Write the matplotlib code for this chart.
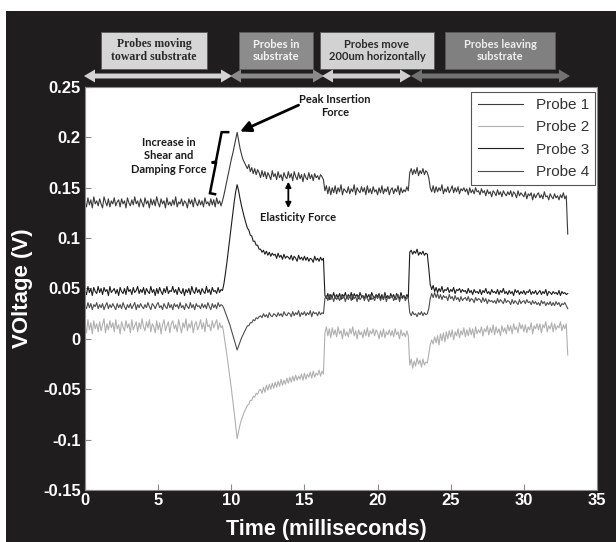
import numpy as np
import matplotlib
matplotlib.use("Agg")
import matplotlib.pyplot as plt
from matplotlib.patches import Rectangle, Polygon

# ---------------- data (millivolts, sampled every 0.1 ms, one row per ms) ----------------
sample_interval_ms = 0.1

probe1_mv = [
    136,131,140,133,138,130,141,134,137,132,
    139,134,130,141,136,132,139,131,137,134,
    140,132,136,138,131,139,134,137,130,140,
    135,132,138,133,141,134,137,131,139,135,
    131,140,134,137,130,139,133,138,132,141,
    135,131,139,134,137,130,140,133,136,132,
    138,133,141,131,136,134,139,132,137,135,
    130,139,134,138,131,140,135,132,138,133,
    137,131,140,134,136,132,139,133,138,131,
    140,134,137,132,137,143,150,157,164,171,
    178,184,191,198,205,197,189,183,178,175,
    172,169,173,166,170,164,169,163,168,165,
    160,167,161,166,159,165,162,158,167,161,
    164,158,166,160,163,157,165,161,159,166,
    160,164,157,166,161,158,165,159,163,156,
    164,160,158,165,159,163,157,164,160,162,
    158,163,161,158,147,152,144,151,143,150,
    145,152,144,150,146,153,143,149,147,145,
    151,144,149,146,153,143,150,147,145,151,
    146,150,143,152,145,149,144,151,146,148,
    143,150,145,152,144,149,146,151,143,148,
    150,144,149,146,152,143,150,145,148,146,
    151,147,165,169,163,168,164,170,162,167,
    164,169,163,167,165,160,150,146,152,145,
    151,146,150,147,153,144,149,146,151,145,
    148,152,145,150,146,151,144,149,147,150,
    146,149,143,150,145,148,144,150,146,147,
    143,149,145,147,142,148,144,146,141,147,
    145,142,148,143,146,141,147,144,142,146,
    143,147,141,146,144,140,147,142,145,143,
    141,146,139,144,142,145,138,144,140,143,
    145,140,143,139,146,141,142,138,144,141,
    139,144,140,142,138,143,140,145,139,142,
    104]

probe2_mv = [
    13,6,19,9,16,5,18,10,15,7,
    17,8,14,20,6,15,9,18,11,16,
    7,19,10,14,5,17,12,8,18,11,
    15,6,19,9,13,17,7,16,10,20,
    12,8,17,11,19,7,15,12,6,18,
    9,16,5,14,19,8,13,17,6,15,
    18,10,14,7,19,12,6,16,11,20,
    8,15,11,18,6,14,17,9,13,19,
    10,16,7,20,12,14,8,18,11,15,
    19,9,16,11,13,4,-6,-16,-27,-38,
    -49,-61,-73,-86,-99,-92,-85,-80,-76,-72,
    -69,-66,-65,-61,-61,-57,-58,-54,-55,-51,
    -50,-54,-48,-53,-46,-51,-45,-50,-44,-49,
    -43,-48,-42,-47,-40,-46,-41,-45,-39,-44,
    -38,-43,-37,-42,-36,-41,-37,-40,-35,-41,
    -34,-40,-35,-38,-33,-39,-32,-38,-34,-36,
    -31,-37,-32,-35,6,12,3,10,1,11,
    4,9,2,12,5,8,0,10,3,7,
    2,10,5,12,3,8,0,9,4,7,
    1,9,3,11,2,8,5,10,3,9,
    6,0,8,2,10,1,7,4,9,3,
    8,2,10,4,7,0,9,3,6,2,
    8,3,-26,-20,-29,-22,-27,-19,-25,-21,
    -28,-20,-26,-23,-24,-15,-6,-1,-5,2,
    -4,3,-6,5,-2,6,-3,7,0,8,
    2,9,-1,7,3,10,1,8,4,11,
    2,9,3,11,4,10,1,12,5,9,
    6,12,3,10,7,13,4,11,6,14,
    4,12,6,10,3,13,7,11,5,14,
    8,13,5,15,9,12,6,16,10,14,
    7,14,6,12,9,16,5,13,10,15,
    9,15,6,14,11,17,7,13,10,16,
    7,15,9,13,11,17,8,14,10,15,
    -16]

probe3_mv = [
    48,44,52,46,50,43,51,47,45,52,
    46,50,44,51,47,49,43,52,46,48,
    50,45,49,43,51,47,45,50,44,52,
    47,49,44,51,46,48,52,45,49,46,
    51,44,50,47,45,52,46,49,43,50,
    45,51,47,44,50,46,52,45,48,47,
    52,46,49,44,51,47,45,50,43,49,
    46,50,44,52,47,45,51,46,49,44,
    50,47,45,52,46,49,44,51,47,48,
    45,51,46,49,48,55,65,76,88,100,
    112,124,136,146,153,147,139,132,126,120,
    115,110,108,103,102,97,97,93,93,89,
    89,86,88,84,87,83,86,82,85,83,
    84,80,85,81,83,79,84,80,82,81,
    79,83,78,82,80,77,83,79,81,78,
    82,78,81,77,80,79,76,82,78,80,
    77,81,78,80,43,40,45,39,44,41,
    46,40,44,41,45,39,44,42,46,40,
    44,41,46,39,45,42,44,40,46,42,
    43,40,45,41,44,39,46,42,41,44,
    42,45,40,44,39,46,41,43,40,45,
    41,44,39,45,42,40,46,41,43,40,
    44,41,86,88,84,87,85,89,83,86,
    84,87,83,85,84,70,54,49,53,47,
    51,46,50,47,52,46,49,48,51,46,
    49,47,51,45,49,48,50,46,49,47,
    48,45,50,46,48,44,49,46,47,45,
    49,44,48,46,50,45,47,44,49,46,
    47,45,49,44,48,46,50,45,47,44,
    48,45,47,43,49,46,48,44,47,45,
    48,44,47,46,49,44,47,45,48,44,
    46,48,44,47,45,49,43,47,46,44,
    47,45,46,44,48,43,47,45,46,44,
    45]

probe4_mv = [
    33,30,36,31,35,29,34,32,36,30,
    34,31,35,29,33,36,30,34,31,35,
    32,29,35,31,34,30,36,32,29,34,
    31,35,30,33,36,29,34,31,35,32,
    30,34,31,36,32,29,35,33,30,34,
    36,31,33,29,35,32,30,36,31,34,
    29,35,32,34,30,36,31,33,29,35,
    32,30,36,31,34,29,35,32,33,30,
    35,31,34,30,36,32,29,35,31,34,
    30,36,32,34,33,30,26,22,18,14,
    9,4,-1,-6,-11,-7,-3,1,4,7,
    10,13,13,16,16,19,18,21,20,22,
    23,21,25,22,24,21,26,23,22,25,
    24,22,26,23,25,22,27,24,23,26,
    25,22,27,23,26,24,28,22,26,24,
    27,23,26,24,28,22,27,25,26,23,
    27,24,26,25,40,43,38,44,39,42,
    37,43,39,41,38,44,40,42,37,43,
    39,43,38,44,40,42,37,43,39,41,
    42,38,43,40,37,44,39,41,38,43,
    40,43,38,42,39,44,37,42,40,41,
    43,38,41,39,44,37,42,40,43,38,
    41,40,26,23,27,24,25,22,26,24,
    27,23,26,24,25,30,40,45,41,46,
    41,45,40,44,39,43,41,42,38,44,
    40,42,38,43,39,41,37,42,38,40,
    41,38,42,37,40,39,36,41,38,40,
    39,36,41,37,40,35,39,37,38,36,
    38,35,40,36,39,37,35,40,36,38,
    37,34,39,35,38,36,34,39,35,37,
    38,35,39,36,37,34,38,35,37,34,
    36,33,38,35,37,33,36,34,37,33,
    36,33,37,34,36,32,35,34,36,33,
    30]

probe_names = ["Probe 1", "Probe 2", "Probe 3", "Probe 4"]
probe_series = [probe1_mv, probe2_mv, probe3_mv, probe4_mv]

x_ticks = [0, 5, 10, 15, 20, 25, 30, 35]
y_ticks = [-0.15, -0.1, -0.05, 0, 0.05, 0.1, 0.15, 0.2, 0.25]
y_tick_labels = ["-0.15", "-0.1", "-0.05", "0", "0.05", "0.1", "0.15", "0.2", "0.25"]

phase_labels = ["Probes moving\ntoward substrate", "Probes in\nsubstrate",
                "Probes move\n200um horizontally", "Probes leaving\nsubstrate"]

# ---------------- styling ----------------
W, H = 616, 542
def fx(px):
    return px / W
def fy(py):
    return 1 - py / H

fig = plt.figure(figsize=(W / 100, H / 100), dpi=100, facecolor="white")
fig.add_artist(Rectangle((fx(6), 0), 1, fy(11), transform=fig.transFigure,
                         facecolor="#1f1d1d", edgecolor="none", zorder=-10))

ax = fig.add_axes([fx(85), fy(490), 512 / W, 403 / H])
ax.set_facecolor("white")

line_colors = ["#3a3a3a", "#b0b0b0", "#1c1c1c", "#4d4d4d"]
for name, series, col in zip(probe_names, probe_series, line_colors):
    t = np.arange(len(series)) * sample_interval_ms
    v = np.array(series) / 1000.0
    ax.plot(t, v, color=col, lw=0.8, label=name)

ax.set_xlim(0, 35)
ax.set_ylim(-0.15, 0.25)
ax.set_xticks(x_ticks)
ax.set_xticklabels([str(x) for x in x_ticks])
ax.set_yticks(y_ticks)
ax.set_yticklabels(y_tick_labels)
for s in ax.spines.values():
    s.set_color("#8a8a8a")
    s.set_linewidth(0.8)
ax.tick_params(direction="in", length=4, width=0.8, color="#8a8a8a",
               labelcolor="white", labelsize=12)
ax.tick_params(axis="x", pad=2)
ax.tick_params(axis="y", pad=3)
for lab in ax.get_xticklabels() + ax.get_yticklabels():
    lab.set_fontfamily("Liberation Sans")
    lab.set_fontweight("bold")

ax.set_xlabel("Time (milliseconds)", color="white", fontsize=15.5,
              fontweight="bold", fontfamily="Liberation Sans")
ax.xaxis.set_label_coords(0.472, -0.072)
ax.set_ylabel("VOltage (V)", color="white", fontsize=16,
              fontweight="bold", fontfamily="Liberation Sans")
ax.yaxis.set_label_coords(-0.102, 0.5)

leg = ax.legend(loc="upper right", bbox_to_anchor=(0.996, 0.988), borderaxespad=0,
                fancybox=False, framealpha=1, edgecolor="#555555",
                prop={"family": "Liberation Sans", "size": 11},
                handlelength=3.0, labelspacing=0.55, borderpad=0.4)
for txt in leg.get_texts():
    txt.set_color("#333333")
leg.get_frame().set_linewidth(0.8)

# ---------------- annotations ----------------
ann_font = dict(family="Lato", weight="bold", size=8, color="#1a1a1a")
ax.text(17.1, 0.2313, "Peak Insertion\nForce", ha="center", va="center",
        linespacing=1.25, **ann_font)
ax.annotate("", xy=(10.6, 0.2058), xytext=(14.6, 0.232),
            arrowprops=dict(arrowstyle="-|>", color="black", lw=2.0,
                            mutation_scale=16, shrinkA=0, shrinkB=0))
ax.text(5.7, 0.1816, "Increase in\nShear and\nDamping Force", ha="center",
        va="center", linespacing=1.25, **ann_font)
brace_t = [9.79, 9.34, 8.95, 8.66, 8.95, 8.54, 8.89]
brace_v = [0.2052, 0.2052, 0.176, 0.175, 0.1745, 0.1446, 0.1436]
ax.plot(brace_t, brace_v, color="black", lw=1.8, solid_joinstyle="miter")
ax.text(14.58, 0.1208, "Elasticity Force", ha="center", va="center", **ann_font)
ax.annotate("", xy=(13.9, 0.1297), xytext=(13.9, 0.156),
            arrowprops=dict(arrowstyle="<|-|>", color="black", lw=1.3,
                            mutation_scale=8, shrinkA=0, shrinkB=0))

# ---------------- header boxes & arrows ----------------
box_px = [(101, 207), (239, 313), (320, 434), (445, 555)]
box_face = ["#d6d6d6", "#8c8c8c", "#d2d2d2", "#808080"]
box_text = ["#2a2a2a", "#f4f4f4", "#2a2a2a", "#eeeeee"]
box_font = [dict(family="Liberation Serif", weight="bold", size=8.5),
            dict(family="Lato", weight="bold", size=8),
            dict(family="Lato", weight="bold", size=8),
            dict(family="Lato", weight="bold", size=8)]
for (x0, x1), fc, tc, fnt, lab in zip(box_px, box_face, box_text, box_font, phase_labels):
    fig.add_artist(Rectangle((fx(x0), fy(69)), (x1 - x0) / W, 37 / H,
                             transform=fig.transFigure, facecolor=fc,
                             edgecolor="#5a5a5a", lw=0.6))
    fig.text(fx((x0 + x1) / 2), fy(50.5), lab, ha="center", va="center",
             color=tc, linespacing=1.2, **fnt)

arrow_px = [(84, 232), (230, 324), (322, 411), (411, 570)]
arrow_col = ["#d4d4d4", "#8a8a8a", "#cfcfcf", "#727272"]
ya, sh, hh, hl = 76, 5, 13, 11
for (x0, x1), col in zip(arrow_px, arrow_col):
    pts = [(x0, ya), (x0 + hl, ya - hh / 2), (x0 + hl, ya - sh / 2),
           (x1 - hl, ya - sh / 2), (x1 - hl, ya - hh / 2), (x1, ya),
           (x1 - hl, ya + hh / 2), (x1 - hl, ya + sh / 2),
           (x0 + hl, ya + sh / 2), (x0 + hl, ya + hh / 2)]
    fig.add_artist(Polygon([(fx(a), fy(b)) for a, b in pts], closed=True,
                           transform=fig.transFigure, facecolor=col,
                           edgecolor="none"))

fig.savefig("out.png", dpi=100, facecolor=fig.get_facecolor())
